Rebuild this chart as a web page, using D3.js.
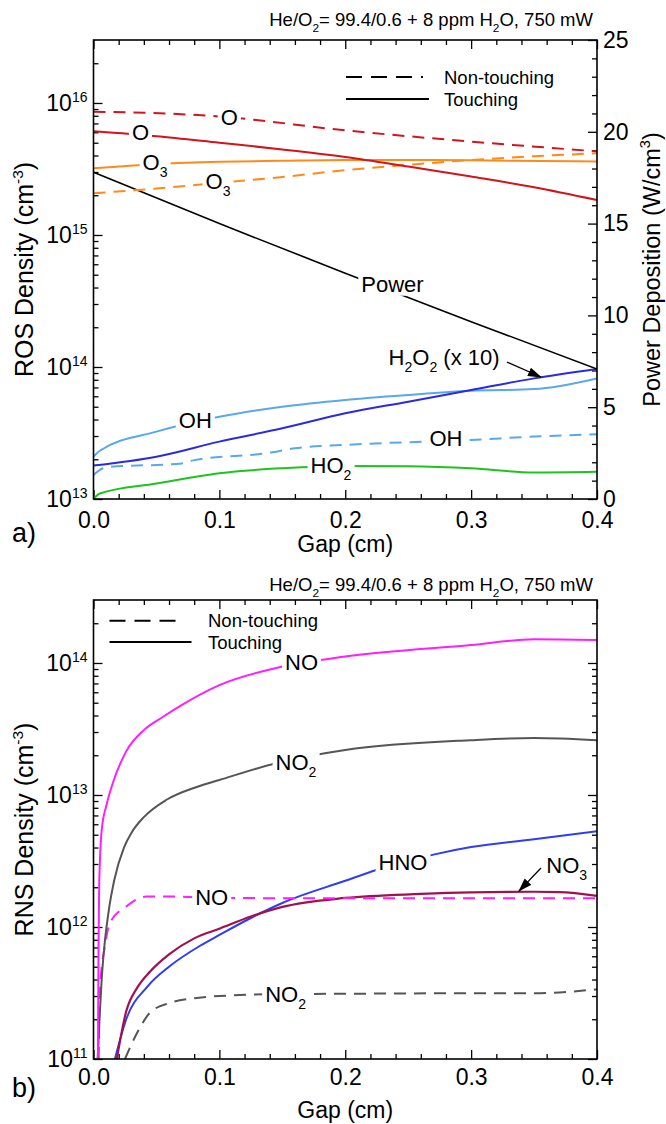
<!DOCTYPE html>
<html><head><meta charset="utf-8">
<script src="https://cdn.jsdelivr.net/npm/d3@7/dist/d3.min.js"></script>
<style>
body{margin:0;background:#fff;}
svg text{font-family:"Liberation Sans",Arial,Helvetica,sans-serif;fill:#000;}
</style></head><body>
<svg id="chart" width="666" height="1124"></svg>
<script>
// ================= DATA =================
const gapTicks = [0, 0.1, 0.2, 0.3, 0.4];
const gapMinorTicks = [0.02,0.04,0.06,0.08,0.12,0.14,0.16,0.18,0.22,0.24,0.26,0.28,0.32,0.34,0.36,0.38];
const powerTicks = [0, 5, 10, 15, 20, 25];
const powerMinorTicks = [1,2,3,4,6,7,8,9,11,12,13,14,16,17,18,19,21,22,23,24];
const rosDecades = [1e13, 1e14, 1e15, 1e16];
const rnsDecades = [1e11, 1e12, 1e13, 1e14];

// panel a) ROS densities (cm^-3) vs gap (cm)
const O_nonTouching  = [[0,8.6e15],[0.1,7.9e15],[0.2,6.2e15],[0.3,5.1e15],[0.4,4.3e15]];
const O_touching     = [[0,6.1e15],[0.05,5.6e15],[0.1,5.0e15],[0.15,4.45e15],[0.2,3.9e15],[0.25,3.3e15],[0.3,2.77e15],[0.35,2.3e15],[0.4,1.84e15]];
const O3_touching    = [[0,3.2e15],[0.02,3.3e15],[0.05,3.45e15],[0.1,3.58e15],[0.15,3.65e15],[0.2,3.7e15],[0.3,3.68e15],[0.4,3.6e15]];
const O3_nonTouching = [[0,2.07e15],[0.05,2.25e15],[0.1,2.49e15],[0.15,2.75e15],[0.2,3.1e15],[0.25,3.4e15],[0.3,3.7e15],[0.35,3.95e15],[0.4,4.16e15]];
const power          = [[0,17.8],[0.1,15.0],[0.2,12.3],[0.3,9.66],[0.4,7.08]]; // W/cm3
const H2O2_x10       = [[0,1.79e13],[0.05,2.09e13],[0.1,2.72e13],[0.15,3.43e13],[0.2,4.46e13],[0.25,5.46e13],[0.3,6.7e13],[0.35,8.2e13],[0.4,9.66e13]];
const OH_touching    = [[0,2.09e13],[0.005,2.32e13],[0.05,3.24e13],[0.1,4.2e13],[0.15,5.0e13],[0.2,5.63e13],[0.25,6.14e13],[0.3,6.6e13],[0.35,6.8e13],[0.4,8.2e13]];
const OH_nonTouching = [[0,1.52e13],[0.01,1.74e13],[0.07,1.86e13],[0.08,1.97e13],[0.14,2.24e13],[0.16,2.42e13],[0.2,2.57e13],[0.3,2.8e13],[0.35,2.97e13],[0.4,3.1e13]];
const HO2_touching   = [[0,1.0e13],[0.005,1.1e13],[0.05,1.31e13],[0.1,1.57e13],[0.15,1.71e13],[0.2,1.78e13],[0.25,1.77e13],[0.3,1.71e13],[0.35,1.59e13],[0.4,1.61e13]];

// panel b) RNS densities (cm^-3) vs gap (cm)
const NO_touching     = [[0.0035,1e11],[0.004,7e11],[0.0045,2e12],[0.0065,5.4e12],[0.0105,8.5e12],[0.0157,1.26e13],[0.026,2.14e13],[0.04,3.1e13],[0.055,3.9e13],[0.07,4.8e13],[0.1,6.8e13],[0.15,9.4e13],[0.2,1.12e14],[0.3,1.37e14],[0.35,1.51e14],[0.4,1.49e14]];
const NO_nonTouching  = [[0.0042,1e11],[0.0046,2.2e11],[0.0057,4e11],[0.009,7.1e11],[0.013,1.07e12],[0.026,1.43e12],[0.042,1.7e12],[0.06,1.7e12],[0.1,1.66e12],[0.2,1.65e12],[0.3,1.65e12],[0.4,1.65e12]];
const NO2_touching    = [[0.0033,1e11],[0.005,2.2e11],[0.0065,4e11],[0.0086,7.1e11],[0.0118,1.27e12],[0.0165,2.27e12],[0.0242,4.0e12],[0.0303,5.2e12],[0.04,6.8e12],[0.058,9.2e12],[0.082,1.15e13],[0.1,1.3e13],[0.145,1.74e13],[0.2,2.19e13],[0.3,2.6e13],[0.35,2.7e13],[0.4,2.6e13]];
const HNO_touching    = [[0.017,1e11],[0.026,2.0e11],[0.043,3.55e11],[0.06,5.0e11],[0.085,7.24e11],[0.1,8.7e11],[0.125,1.17e12],[0.15,1.52e12],[0.2,2.24e12],[0.224,2.69e12],[0.271,3.55e12],[0.3,4.03e12],[0.35,4.62e12],[0.4,5.31e12]];
const NO3_touching    = [[0.0185,1e11],[0.026,2.3e11],[0.035,3.5e11],[0.045,4.6e11],[0.06,6.2e11],[0.08,8.2e11],[0.1,9.7e11],[0.125,1.2e12],[0.15,1.42e12],[0.2,1.66e12],[0.26,1.78e12],[0.3,1.83e12],[0.35,1.85e12],[0.37,1.84e12],[0.4,1.72e12]];
const NO2_nonTouching = [[0.025,1e11],[0.035,1.6e11],[0.045,2.25e11],[0.06,2.65e11],[0.082,2.9e11],[0.1,3.0e11],[0.15,3.1e11],[0.2,3.12e11],[0.3,3.15e11],[0.35,3.15e11],[0.4,3.37e11]];

// ================= LAYOUT =================
const svg = d3.select("#chart");
const X0 = 93.5, X1 = 597;
const x = d3.scaleLinear().domain([0, 0.4]).range([X0, X1]);
const A = {top: 40, bottom: 499};
const B = {top: 600, bottom: 1059};
const yA = d3.scaleLog().domain([1e13, 3e16]).range([A.bottom, A.top]);
const yP = d3.scaleLinear().domain([0, 25]).range([A.bottom, A.top]);
const yB = d3.scaleLog().domain([1e11, 3e14]).range([B.bottom, B.top]);

const C = {
  red: "#d2141c", orange: "#ff8a1c", blue: "#2a2ae0", lightblue: "#58a8ee",
  green: "#1ec41e", magenta: "#ff1eff", gray: "#555555", hno: "#2f3cf2", maroon: "#a0124e"
};
const TICKF = 23, LABF = 22, SMALLF = 18.5, YTF = 25;

const defs = svg.append("defs");
defs.append("marker").attr("id","arrow").attr("markerUnits","userSpaceOnUse")
  .attr("viewBox","0 0 14 10").attr("refX",13).attr("refY",5)
  .attr("markerWidth",14).attr("markerHeight",10).attr("orient","auto")
  .append("path").attr("d","M0,0.5 L14,5 L0,9.5 Z").attr("fill","#000");
[["clipA",A],["clipB",B]].forEach(([id,p])=>{
  defs.append("clipPath").attr("id",id).append("rect")
    .attr("x",X0).attr("y",p.top).attr("width",X1-X0).attr("height",p.bottom-p.top);
});

function minorLog(decades, max){
  const out=[];
  decades.forEach(d=>{ for(let k=2;k<=9;k++){ const v=k*d; if(v<max) out.push(v);} });
  return out;
}

function styleAxis(g){
  g.select(".domain").remove();
  g.selectAll(".tick line").attr("stroke","#000").attr("stroke-width",1.3);
  g.selectAll(".tick text").attr("font-size",TICKF).attr("font-family","Liberation Sans, Arial, sans-serif").attr("fill","#000");
}

// rich text helper: parts = [[text, mode]] mode: 0 normal, 1 sub, 2 sup
function rich(textSel, parts, size){
  let shift = 0;
  parts.forEach(([t,m])=>{
    const ts = textSel.append("tspan").text(t);
    let target = 0;
    if(m===1){ ts.attr("font-size", size*0.64); target = size*0.32; }
    else if(m===2){ ts.attr("font-size", size*0.62); target = -size*0.42; }
    else { ts.attr("font-size", size); }
    ts.attr("dy", target - shift);
    shift = target;
  });
  return textSel;
}

function label(g, parts, px, py, size, bg){
  const t = g.append("text").attr("x",px).attr("y",py + size*0.36)
    .attr("text-anchor","middle").attr("font-size",size);
  rich(t, parts, size);
  if(bg){
    const bb = t.node().getBBox();
    g.insert("rect", function(){ return t.node(); })
      .attr("x",bb.x-3).attr("y",bb.y+2).attr("width",bb.width+6).attr("height",bb.height-3)
      .attr("fill","#fff");
  }
  return t;
}

function drawPanel(p, yL, decades, clipId, opts){
  const g = svg.append("g");
  const xb = g.append("g").attr("transform",`translate(0,${p.bottom})`)
    .call(d3.axisBottom(x).tickValues(gapTicks).tickSize(-9).tickPadding(opts.xPad).tickFormat(d3.format(".1f")));
  styleAxis(xb);
  const xbm = g.append("g").attr("transform",`translate(0,${p.bottom})`)
    .call(d3.axisBottom(x).tickValues(gapMinorTicks).tickSize(-5).tickFormat(""));
  styleAxis(xbm);
  const xt = g.append("g").attr("transform",`translate(0,${p.top})`)
    .call(d3.axisTop(x).tickValues(gapTicks).tickSize(-9).tickFormat(""));
  styleAxis(xt);
  const xtm = g.append("g").attr("transform",`translate(0,${p.top})`)
    .call(d3.axisTop(x).tickValues(gapMinorTicks).tickSize(-5).tickFormat(""));
  styleAxis(xtm);
  const yl = g.append("g").attr("transform",`translate(${X0},0)`)
    .call(d3.axisLeft(yL).tickValues(decades).tickSize(-9).tickFormat(""));
  styleAxis(yl);
  const ylm = g.append("g").attr("transform",`translate(${X0},0)`)
    .call(d3.axisLeft(yL).tickValues(minorLog(decades, yL.domain()[1])).tickSize(-5).tickFormat(""));
  styleAxis(ylm);
  decades.forEach(d=>{
    const e = Math.round(Math.log10(d));
    const t = g.append("text").attr("x",X0-6).attr("y",yL(d)+8).attr("text-anchor","end").attr("font-size",TICKF);
    t.append("tspan").text("10");
    t.append("tspan").text(e).attr("font-size",14).attr("dy",-9);
  });
  return g;
}

// ================= PANEL A =================
const gA = drawPanel(A, yA, rosDecades, "clipA", {xPad:13});
const yr = gA.append("g").attr("transform",`translate(${X1},0)`)
  .call(d3.axisRight(yP).tickValues(powerTicks).tickSize(-9).tickPadding(6).tickFormat(d3.format("d")));
styleAxis(yr);
yr.selectAll(".tick text").attr("x",6);
const yrm = gA.append("g").attr("transform",`translate(${X1},0)`)
  .call(d3.axisRight(yP).tickValues(powerMinorTicks).tickSize(-5).tickFormat(""));
styleAxis(yrm);

const linesA = gA.append("g").attr("clip-path","url(#clipA)");
function drawLine(g, data, yS, color, dashed, width){
  g.append("path").datum(data)
    .attr("d", d3.line().x(d=>x(d[0])).y(d=>yS(d[1])).curve(d3.curveMonotoneX))
    .attr("fill","none").attr("stroke",color).attr("stroke-width",width||2)
    .attr("stroke-dasharray", dashed ? "12,8" : null);
}
drawLine(linesA, HO2_touching, yA, C.green, false);
drawLine(linesA, OH_nonTouching, yA, C.lightblue, true);
drawLine(linesA, OH_touching, yA, C.lightblue, false);
drawLine(linesA, H2O2_x10, yA, C.blue, false);
drawLine(linesA, power, yP, "#000", false, 1.6);
drawLine(linesA, O3_nonTouching, yA, C.orange, true);
drawLine(linesA, O3_touching, yA, C.orange, false);
drawLine(linesA, O_touching, yA, C.red, false);
drawLine(linesA, O_nonTouching, yA, C.red, true);

const labA = gA.append("g");
label(labA, [["O",0]], x(0.0373), yA(6.07e15), LABF, true);
label(labA, [["O",0]], x(0.1079), yA(7.83e15), LABF, true);
label(labA, [["O",0],["3",1]], x(0.0489), yA(3.54e15), LABF, true);
label(labA, [["O",0],["3",1]], x(0.0989), yA(2.58e15), LABF, true);
label(labA, [["Power",0]], x(0.2375), yP(11.72), LABF, true);
label(labA, [["OH",0]], x(0.0809), yA(3.97e13), LABF, true);
label(labA, [["OH",0]], x(0.28), yA(2.9e13), LABF, true);
label(labA, [["HO",0],["2",1]], x(0.1887), yA(1.8e13), LABF, true);
label(labA, [["H",0],["2",1],["O",0],["2",1],[" (x 10)",0]], x(0.2785), yA(1.18e14), LABF, false);
labA.append("line").attr("x1",x(0.3285)).attr("y1",yA(1.09e14)).attr("x2",x(0.3555)).attr("y2",yA(8.4e13))
  .attr("stroke","#000").attr("stroke-width",1.3).attr("marker-end","url(#arrow)");

gA.append("rect").attr("x",X0).attr("y",A.top).attr("width",X1-X0).attr("height",A.bottom-A.top)
  .attr("fill","none").attr("stroke","#000").attr("stroke-width",1.6);

function legend(g, lx, ly1, ly2, len1, len2, tx){
  g.append("line").attr("x1",lx).attr("x2",lx+len1).attr("y1",ly1).attr("y2",ly1)
    .attr("stroke","#000").attr("stroke-width",2).attr("stroke-dasharray","16,9");
  g.append("line").attr("x1",lx).attr("x2",lx+len2).attr("y1",ly2).attr("y2",ly2)
    .attr("stroke","#000").attr("stroke-width",2);
  g.append("text").attr("x",tx).attr("y",ly1+6.5).attr("font-size",SMALLF).text("Non-touching");
  g.append("text").attr("x",tx).attr("y",ly2+6.5).attr("font-size",SMALLF).text("Touching");
}
legend(gA, 346, 77, 99, 77, 83, 444);

function title(y){
  const t = svg.append("text").attr("x",593).attr("y",y).attr("text-anchor","end").attr("font-size",SMALLF);
  rich(t, [["He/O",0],["2",1],["= 99.4/0.6 + 8 ppm H",0],["2",1],["O, 750 mW",0]], SMALLF);
}
title(26);
function ytitle(xp, yc, parts, size){
  const t = svg.append("text").attr("transform",`translate(${xp},${yc}) rotate(-90)`)
    .attr("text-anchor","middle").attr("font-size",size);
  rich(t, parts, size);
}
ytitle(33, (A.top+A.bottom)/2, [["ROS Density (cm",0],["-3",2],[")",0]], YTF);
ytitle(660, (A.top+A.bottom)/2, [["Power Deposition (W/cm",0],["3",2],[")",0]], 23.5);
svg.append("text").attr("x",(X0+X1)/2).attr("y",552).attr("text-anchor","middle").attr("font-size",TICKF).text("Gap (cm)");
svg.append("text").attr("x",12).attr("y",542).attr("font-size",27).text("a)");

// ================= PANEL B =================
const gB = drawPanel(B, yB, rnsDecades, "clipB", {xPad:10});
const yrB = gB.append("g").attr("transform",`translate(${X1},0)`)
  .call(d3.axisRight(yB).tickValues(rnsDecades).tickSize(-9).tickFormat(""));
styleAxis(yrB);
const yrBm = gB.append("g").attr("transform",`translate(${X1},0)`)
  .call(d3.axisRight(yB).tickValues(minorLog(rnsDecades, 3e14)).tickSize(-5).tickFormat(""));
styleAxis(yrBm);

const linesB = gB.append("g").attr("clip-path","url(#clipB)");
drawLine(linesB, NO2_nonTouching, yB, C.gray, true);
drawLine(linesB, HNO_touching, yB, C.hno, false);
drawLine(linesB, NO3_touching, yB, C.maroon, false, 2.2);
drawLine(linesB, NO_nonTouching, yB, C.magenta, true);
drawLine(linesB, NO2_touching, yB, C.gray, false);
drawLine(linesB, NO_touching, yB, C.magenta, false);

const labB = gB.append("g");
label(labB, [["NO",0]], x(0.1653), yB(1.02e14), LABF, true);
label(labB, [["NO",0],["2",1]], x(0.1609), yB(1.79e13), LABF, true);
label(labB, [["HNO",0]], x(0.2459), yB(3.08e12), LABF, true);
label(labB, [["NO",0]], x(0.0939), yB(1.69e12), LABF, true);
label(labB, [["NO",0],["2",1]], x(0.1526), yB(3.12e11), LABF, true);
label(labB, [["NO",0],["3",1]], x(0.376), yB(2.97e12), LABF, false);
labB.append("line").attr("x1",x(0.3555)).attr("y1",yB(2.8e12)).attr("x2",x(0.338)).attr("y2",yB(1.87e12))
  .attr("stroke","#000").attr("stroke-width",1.3).attr("marker-end","url(#arrow)");

gB.append("rect").attr("x",X0).attr("y",B.top).attr("width",X1-X0).attr("height",B.bottom-B.top)
  .attr("fill","none").attr("stroke","#000").attr("stroke-width",1.6);
legend(gB, 109.5, 620.7, 642, 75, 82, 208);
title(591);
ytitle(33, (B.top+B.bottom)/2, [["RNS Density (cm",0],["-3",2],[")",0]], YTF);
svg.append("text").attr("x",(X0+X1)/2).attr("y",1118).attr("text-anchor","middle").attr("font-size",TICKF).text("Gap (cm)");
svg.append("text").attr("x",12).attr("y",1097).attr("font-size",27).text("b)");
</script>
</body></html>
